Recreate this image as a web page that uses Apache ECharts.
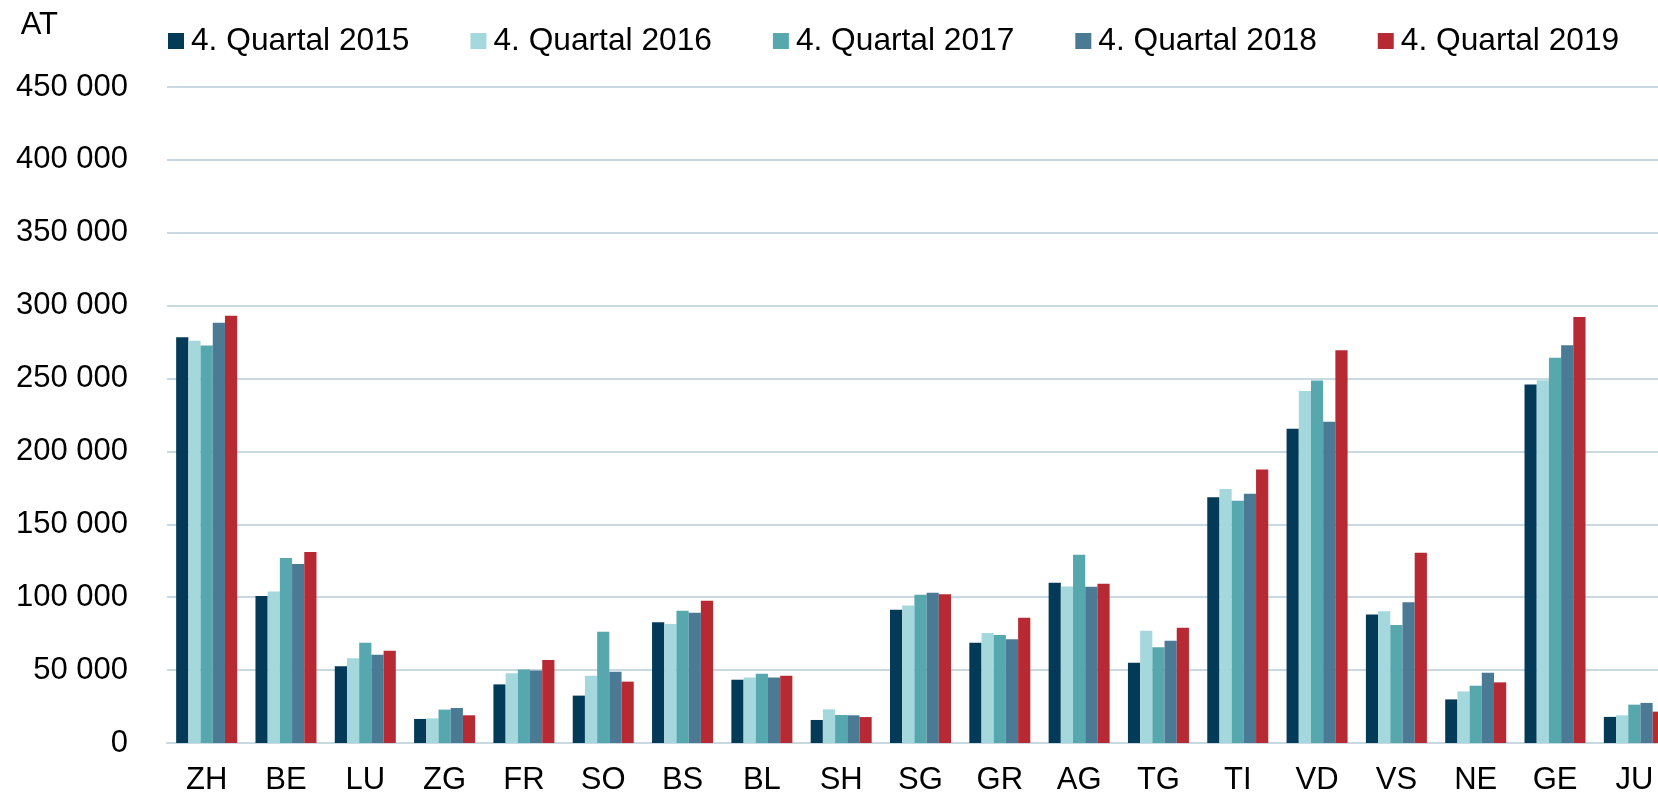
<!DOCTYPE html>
<html>
<head>
<meta charset="utf-8">
<script src="https://cdn.jsdelivr.net/npm/echarts@6/dist/echarts.min.js"></script>
<style>
  html, body { margin: 0; padding: 0; background: #fff; }
  #chart { width: 1658px; height: 794px; }
</style>
</head>
<body>
<div id="chart"></div>
<script>
// Kantone
const cantons = ['ZH', 'BE', 'LU', 'ZG', 'FR', 'SO', 'BS', 'BL', 'SH', 'SG', 'GR', 'AG', 'TG', 'TI', 'VD', 'VS', 'NE', 'GE', 'JU'];

const seriesNames = ['4. Quartal 2015', '4. Quartal 2016', '4. Quartal 2017', '4. Quartal 2018', '4. Quartal 2019'];

const q2015 = [278400, 100800, 52600, 16500, 40200, 32500, 82800, 43400, 15800, 91400, 68800, 110000, 55100, 168500, 215600, 88200, 29900, 246000, 17900];
const q2016 = [275900, 104000, 58100, 16900, 47800, 46200, 81600, 45000, 23100, 94400, 75400, 107400, 77000, 174200, 241400, 90300, 35400, 248900, 19000];
const q2017 = [272700, 126900, 68800, 22900, 50500, 76400, 90800, 47500, 19200, 101700, 74100, 129200, 65600, 166200, 248700, 80900, 39300, 264300, 26300];
const q2018 = [288300, 122800, 60600, 24000, 49800, 48900, 89400, 45000, 19000, 103100, 71100, 107200, 70200, 171000, 220400, 96500, 48200, 272900, 27500];
const q2019 = [293100, 131000, 63300, 19000, 56900, 42100, 97600, 46200, 17800, 102000, 86000, 109300, 79100, 187700, 269500, 130500, 41600, 292200, 21500];

const colors = ['#033a57', '#a5d8dd', '#57a8ae', '#4a7a94', '#b72a33'];

const FONT = 'Liberation Sans, Arial, sans-serif';

const chart = echarts.init(document.getElementById('chart'));

const seriesData = [q2015, q2016, q2017, q2018, q2019].map((data, i) => ({
  name: seriesNames[i],
  type: 'bar',
  data: data,
  barWidth: 12.2,
  barGap: '0%',
  itemStyle: { color: colors[i] }
}));

const option = {
  animation: false,
  color: colors,
  legend: {
    data: seriesNames,
    left: 168,
    top: 25,
    padding: 0,
    icon: 'rect',
    itemWidth: 16,
    itemHeight: 16,
    itemGap: 61,
    textStyle: {
      fontSize: 31.7,
      fontFamily: FONT,
      color: '#000',
      padding: [0, 0, 0, 2]
    }
  },
  grid: {
    left: 167,
    top: 87,
    width: 1507,
    height: 656,
    containLabel: false,
    // plot area runs past the right edge, like the original
    outerBoundsMode: 'none'
  },
  xAxis: {
    type: 'category',
    data: cantons,
    axisTick: { show: false },
    axisLine: { lineStyle: { color: '#c8d9e1', width: 2 } },
    axisLabel: {
      fontSize: 31,
      fontFamily: FONT,
      color: '#000',
      margin: 22,
      interval: 0
    }
  },
  yAxis: {
    type: 'value',
    min: 0,
    max: 450000,
    interval: 50000,
    name: 'AT',
    nameLocation: 'end',
    nameGap: 62,
    nameTextStyle: {
      fontSize: 31,
      fontFamily: FONT,
      color: '#000',
      align: 'right',
      verticalAlign: 'middle',
      padding: [0, 109, 0, 0]
    },
    axisLine: { show: false },
    axisTick: { show: false },
    splitLine: { lineStyle: { color: '#c8d9e1', width: 2 } },
    axisLabel: {
      fontSize: 31,
      fontFamily: FONT,
      color: '#000',
      margin: 39,
      padding: [4, 0, 0, 0],
      formatter: v => String(v).replace(/\B(?=(\d{3})+(?!\d))/g, ' ')
    }
  },
  series: seriesData
};

chart.setOption(option);
</script>
</body>
</html>
